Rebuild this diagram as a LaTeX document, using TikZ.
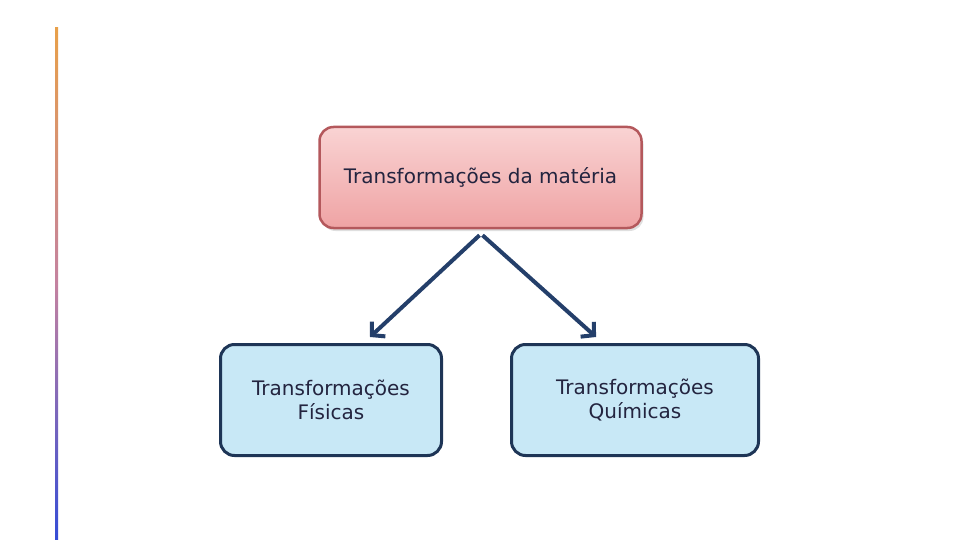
\documentclass[tikz,border=0pt]{standalone}
\usepackage{fontspec}
\setmainfont{DejaVu Sans}
\usetikzlibrary{arrows.meta,shadows}
\definecolor{topfill}{HTML}{F9D3D3}
\definecolor{topfilldark}{HTML}{EFA3A4}
\definecolor{topline}{HTML}{B4585C}
\definecolor{subfill}{HTML}{C8E8F6}
\definecolor{subline}{HTML}{1E3556}
\definecolor{arrowblue}{HTML}{243F6A}
\definecolor{txt}{HTML}{23243F}
\tikzset{
  topbox/.style={draw=topline, line width=2.5pt, rounded corners=14pt,
    top color=topfill, bottom color=topfilldark,
    minimum width=322pt, minimum height=101pt, text=txt,
    font=\fontsize{20}{24}\selectfont,
    drop shadow={opacity=0.25, shadow xshift=2pt, shadow yshift=-3pt}},
  subbox/.style={draw=subline, line width=3pt, rounded corners=14pt,
    fill=subfill, minimum width=221pt, minimum height=111pt, text=txt,
    align=center, font=\fontsize{20}{24}\selectfont},
  link/.style={draw=arrowblue, line width=4pt, -{Straight Barb[length=9pt,width=20pt]}}
}
\begin{document}
\begin{tikzpicture}[x=1pt,y=-1pt]
\useasboundingbox (0,0) rectangle (960,540);
\shade[top color={rgb,255:red,232;green,160;blue,74}, bottom color={rgb,255:red,52;green,76;blue,214}, middle color={rgb,255:red,196;green,130;blue,160}] (55,28) rectangle (58,540);
\node[topbox] (top) at (480.5,177.5) {Transformações da matéria};
\node[subbox] (fis) at (331,400) {Transformações\\Físicas};
\node[subbox, minimum width=247pt] (qui) at (635,400) {Transformações\\Químicas};
\draw[link] ([xshift=-1pt,yshift=-6pt]top.south) -- ([xshift=39pt,yshift=6pt]fis.north);
\draw[link] ([xshift=2pt,yshift=-6pt]top.south) -- ([xshift=-39pt,yshift=6pt]qui.north);
\end{tikzpicture}
\end{document}
